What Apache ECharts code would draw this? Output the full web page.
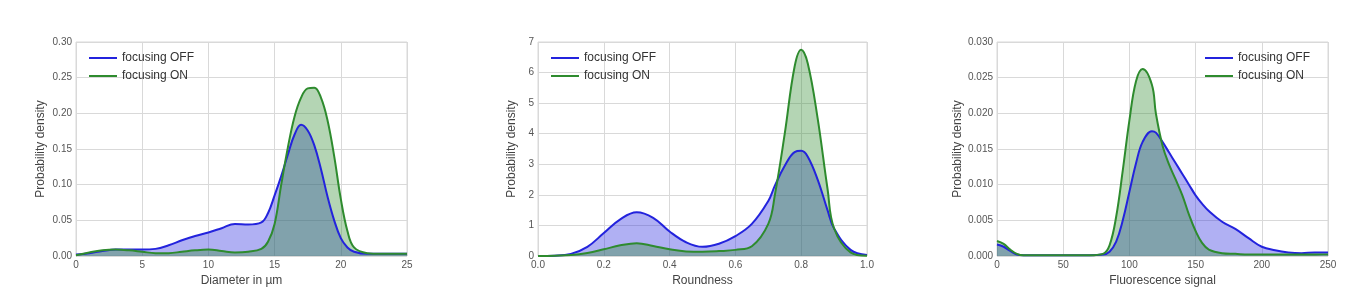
<!DOCTYPE html>
<html><head><meta charset="utf-8">
<script src="https://cdn.jsdelivr.net/npm/echarts@6/dist/echarts.min.js"></script>
<style>html,body{margin:0;padding:0;background:#fff}#c{width:1366px;height:302px}</style>
</head><body><div id="c"></div>
<script>
// Panel 1: Diameter in µm
const diamX   = [0,1,2,3,4,5,6,7,8,9,10,11,12,13,14,14.5,15,15.5,16,16.5,17,17.5,18,18.5,19,19.5,20,20.5,21,22,23,24,25];
const diamOff = [0.002,0.004,0.007,0.009,0.009,0.009,0.010,0.015,0.022,0.028,0.033,0.039,0.045,0.044,0.047,0.060,0.085,0.112,0.142,0.170,0.184,0.176,0.155,0.122,0.083,0.050,0.025,0.012,0.006,0.003,0.003,0.003,0.003];
const diamOn  = [0.001,0.005,0.008,0.009,0.008,0.006,0.004,0.004,0.006,0.008,0.009,0.007,0.005,0.006,0.010,0.020,0.045,0.100,0.152,0.195,0.222,0.235,0.236,0.222,0.190,0.140,0.080,0.035,0.012,0.004,0.003,0.003,0.003];
// Panel 2: Roundness
const roundX   = [0,0.05,0.1,0.15,0.2,0.25,0.3,0.35,0.4,0.45,0.5,0.55,0.6,0.65,0.7,0.72,0.75,0.78,0.8,0.82,0.85,0.88,0.9,0.95,1.0];
const roundOff = [0,0.01,0.07,0.30,0.75,1.20,1.43,1.25,0.80,0.45,0.30,0.40,0.65,1.05,1.80,2.30,2.95,3.40,3.44,3.25,2.50,1.50,0.90,0.20,0.03];
const roundOn  = [0,0.01,0.03,0.10,0.22,0.35,0.42,0.33,0.22,0.15,0.14,0.16,0.20,0.32,1.05,2.00,4.00,6.20,6.75,6.30,4.50,2.20,0.90,0.12,0.01];
// Panel 3: Fluorescence signal
const fluoX   = [0,5,10,15,20,30,50,70,80,85,90,95,100,105,110,117,120,125,130,135,140,145,150,155,160,170,180,190,200,210,220,230,240,250];
const fluoOff = [0.0016,0.0013,0.0007,0.0002,0.0001,0.0001,0.0001,0.0001,0.0002,0.0006,0.0020,0.0050,0.0090,0.0130,0.0160,0.0175,0.0173,0.0160,0.0145,0.0130,0.0115,0.0100,0.0085,0.0073,0.0063,0.0048,0.0038,0.0025,0.0013,0.0008,0.0005,0.0004,0.0005,0.0005];
const fluoOn  = [0.0021,0.0017,0.0009,0.0003,0.0001,0.0001,0.0001,0.0001,0.0003,0.0015,0.0055,0.0120,0.0190,0.0245,0.0262,0.0240,0.0200,0.0155,0.0128,0.0107,0.0085,0.0058,0.0035,0.0018,0.0009,0.0004,0.0003,0.0002,0.0002,0.0002,0.0002,0.0002,0.0002,0.0002];

const panels = [
  {x: diamX,  off: diamOff,  on: diamOn,  xName: 'Diameter in µm',      xMax: 25,  xInt: 5,   xFix: 0, yMax: 0.30, yInt: 0.05,  yFix: 2, left: 76,  width: 331, legLeft: 84,  yGap: 29},
  {x: roundX, off: roundOff, on: roundOn, xName: 'Roundness',           xMax: 1.0, xInt: 0.2, xFix: 1, yMax: 7,    yInt: 1,     yFix: 0, left: 538, width: 329, legLeft: 546, yGap: 20},
  {x: fluoX,  off: fluoOff,  on: fluoOn,  xName: 'Fluorescence signal', xMax: 250, xInt: 50,  xFix: 0, yMax: 0.030, yInt: 0.005, yFix: 3, left: 997, width: 331, legLeft: 1200, yGap: 32}
];
const blue = '#2323dd', green = '#2e8b2e';
const font = 'Liberation Sans, Arial, sans-serif';
const txt = '#555';
const grid = [], xAxis = [], yAxis = [], series = [], legend = [];
panels.forEach((p, i) => {
  grid.push({left: p.left, top: 42, width: p.width, height: 214, show: true, borderColor: '#d9d9d9', borderWidth: 1, backgroundColor: 'transparent'});
  xAxis.push({type: 'value', gridIndex: i, min: 0, max: p.xMax, interval: p.xInt,
    name: p.xName, nameLocation: 'middle', nameGap: 16, nameTextStyle: {color: '#444', fontSize: 12, fontFamily: font},
    axisLine: {show: false}, axisTick: {show: false},
    axisLabel: {color: txt, fontSize: 10, fontFamily: font, margin: 4, formatter: v => v.toFixed(p.xFix)},
    splitLine: {show: true, lineStyle: {color: '#d9d9d9', width: 1}}});
  yAxis.push({type: 'value', gridIndex: i, min: 0, max: p.yMax, interval: p.yInt,
    name: 'Probability density', nameLocation: 'middle', nameGap: p.yGap, nameRotate: 90,
    nameTextStyle: {color: '#444', fontSize: 12, fontFamily: font},
    axisLine: {show: false}, axisTick: {show: false},
    axisLabel: {color: txt, fontSize: 10, fontFamily: font, margin: 4, formatter: v => v.toFixed(p.yFix)},
    splitLine: {show: true, lineStyle: {color: '#d9d9d9', width: 1}}});
  const mk = (name, xs, ys, col) => ({
    name, type: 'line', xAxisIndex: i, yAxisIndex: i, smooth: 0.4, symbol: 'none',
    data: xs.map((x, k) => [x, ys[k]]),
    lineStyle: {color: col, width: 2}, itemStyle: {color: col},
    areaStyle: {color: col, opacity: 0.36}
  });
  series.push(mk('focusing OFF', p.x, p.off, blue));
  series.push(mk('focusing ON', p.x, p.on, green));
  legend.push({left: p.legLeft, top: 47, orient: 'vertical', itemGap: 6, itemWidth: 28, itemHeight: 2,
    icon: 'rect', textStyle: {color: '#333', fontSize: 12, fontFamily: font},
    data: [{name: 'focusing OFF', itemStyle: {color: blue}}, {name: 'focusing ON', itemStyle: {color: green}}]});
});
const chart = echarts.init(document.getElementById('c'), null, {renderer: 'canvas'});
chart.setOption({animation: false, backgroundColor: '#fff', grid, xAxis, yAxis, series, legend});
</script></body></html>
